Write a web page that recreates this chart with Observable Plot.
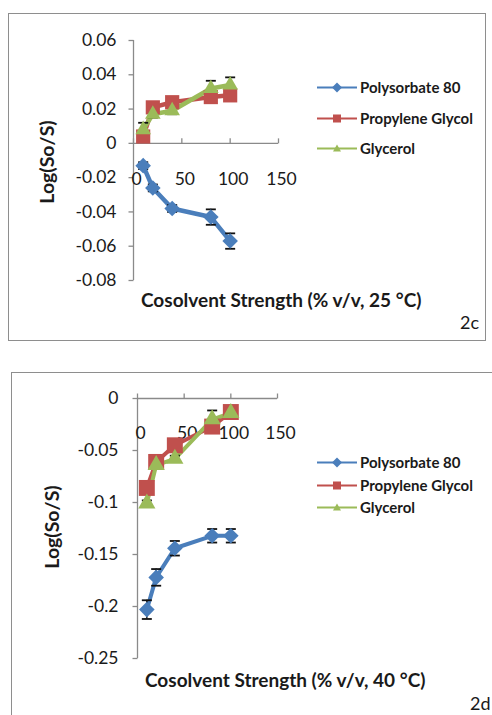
<!DOCTYPE html>
<html><head><meta charset="utf-8">
<script src="https://cdn.jsdelivr.net/npm/d3@7"></script>
<script src="https://cdn.jsdelivr.net/npm/@observablehq/plot@0.6"></script>
<style>
body{margin:0;background:#fff;}
#root{position:relative;width:492px;height:715px;overflow:hidden;background:#fff;font-family:Lato,"Open Sans",sans-serif;color:#1a1a1a;}
.abs{position:absolute;white-space:nowrap;line-height:1;}
.box{position:absolute;border:1.5px solid #8e8e8e;box-sizing:border-box;}
.ytitle{font-weight:bold;font-size:19.5px;transform:translate(-50%,-50%) rotate(-90deg);}
.xtitle{font-weight:bold;font-size:19px;transform:translateY(-50%);}
.tag{font-size:18px;transform:translateY(-50%);}
.leg{display:flex;align-items:center;font-weight:bold;font-size:15px;transform:translateY(-50%);}
.plotwrap{position:absolute;left:0;}
</style></head>
<body><div id="root"></div>
<script>
// ---------- data ----------
const cosolvent = [10, 20, 40, 80, 100];
const seriesNames = ["Polysorbate 80", "Propylene Glycol", "Glycerol"];
const seriesColors = ["#4A7EBB", "#C0504D", "#9BBB59"];
const seriesSymbols = ["diamond2", "square", "triangle"];

// 25 °C panel (2c)
const ps80At25 = [-0.013, -0.026, -0.038, -0.043, -0.057];
const pgAt25 = [0.004, 0.021, 0.024, 0.027, 0.028];
const glyAt25 = [0.008, 0.017, 0.019, 0.032, 0.034];
const ps80ErrAt25 = [0.002, 0.002, 0.002, 0.0045, 0.0045];
const pgErrAt25 = [0.002, 0.002, 0.002, 0.002, 0.002];
const glyErrAt25 = [0.004, 0.002, 0.002, 0.0045, 0.0045];
const yTicks25 = [0.06, 0.04, 0.02, 0, -0.02, -0.04, -0.06, -0.08];
const yLabels25 = ["0.06", "0.04", "0.02", "0", "-0.02", "-0.04", "-0.06", "-0.08"];

// 40 °C panel (2d)
const ps80At40 = [-0.203, -0.172, -0.144, -0.132, -0.132];
const pgAt40 = [-0.086, -0.061, -0.045, -0.027, -0.013];
const glyAt40 = [-0.101, -0.064, -0.058, -0.020, -0.014];
const ps80ErrAt40 = [0.009, 0.008, 0.007, 0.0065, 0.0065];
const pgErrAt40 = [0.003, 0.003, 0.003, 0.004, 0.003];
const glyErrAt40 = [0.003, 0.003, 0.003, 0.0085, 0.003];
const yTicks40 = [0, -0.05, -0.1, -0.15, -0.2, -0.25];
const yLabels40 = ["0", "-0.05", "-0.1", "-0.15", "-0.2", "-0.25"];

const xTicks = [0, 50, 100, 150];
const xLabels = ["0", "50", "100", "150"];

// ---------- helpers ----------
const axisColor = "#8a8a8a";
const tickLeft = {draw(c) { c.moveTo(-5, 0); c.lineTo(0, 0); }};
const tickUp = {draw(c) { c.moveTo(0, 0); c.lineTo(0, -5); }};
const cap = {draw(c) { c.moveTo(-5, 0); c.lineTo(5, 0); }};

function rowsFor(values, errs) {
  const rows = [];
  values.forEach((vals, s) => cosolvent.forEach((x, i) => rows.push({x, y: vals[i], err: errs[s][i], s})));
  return rows;
}

function panel(cfg) {
  const rows = rowsFor(cfg.values, cfg.errs);
  const marks = [
    Plot.ruleY([0], {stroke: axisColor, strokeWidth: 1.3}),
    Plot.ruleX([0], {stroke: axisColor, strokeWidth: 1.3}),
    Plot.dot(cfg.yTicks, {x: () => 0, y: d => d, symbol: tickLeft, fill: "none", stroke: axisColor, strokeWidth: 1.3}),
    Plot.text(cfg.yTicks, {x: () => 0, y: d => d, text: (d, i) => cfg.yLabels[i], textAnchor: "end", dx: -cfg.yPad, fontSize: 17.5, fill: "#1a1a1a"}),
    Plot.dot(xTicks, {x: d => d, y: () => 0, symbol: tickUp, fill: "none", stroke: axisColor, strokeWidth: 1.3}),
    Plot.text(xTicks, {x: d => d, y: () => 0, text: (d, i) => xLabels[i], dy: cfg.xLabelDy, dx: 3, fontSize: 17.5, fill: "#1a1a1a"})
  ];
  seriesNames.forEach((name, s) => {
    const data = rows.filter(d => d.s === s);
    marks.push(Plot.line(data, {x: "x", y: "y", stroke: seriesColors[s], strokeWidth: cfg.lineWidth}));
  });
  // error bars sit beneath the markers
  marks.push(Plot.ruleX(rows, {x: "x", y1: d => d.y - d.err, y2: d => d.y + d.err, stroke: "#111", strokeWidth: 1.4}));
  marks.push(Plot.dot(rows, {x: "x", y: d => d.y + d.err, symbol: cap, fill: "none", stroke: "#111", strokeWidth: 1.8}));
  marks.push(Plot.dot(rows, {x: "x", y: d => d.y - d.err, symbol: cap, fill: "none", stroke: "#111", strokeWidth: 1.8}));
  seriesNames.forEach((name, s) => {
    const data = rows.filter(d => d.s === s);
    marks.push(Plot.dot(data, {x: "x", y: "y", symbol: seriesSymbols[s], r: cfg.r[s], fill: seriesColors[s], stroke: "none"}));
  });
  return Plot.plot({
    width: 492, height: 355,
    marginLeft: cfg.ml, marginRight: cfg.mr, marginTop: cfg.mt, marginBottom: cfg.mb,
    x: {domain: [0, 150], axis: null},
    y: {domain: cfg.yDomain, axis: null},
    style: {background: "transparent", overflow: "visible", fontFamily: "Lato, 'Open Sans', sans-serif"},
    marks
  });
}

function swatch(s) {
  const col = seriesColors[s];
  let m;
  if (s === 0) m = `<polygon points="20,1 25,6 20,11 15,6" fill="${col}"/>`;
  else if (s === 1) m = `<rect x="16" y="2" width="8" height="8" fill="${col}"/>`;
  else m = `<polygon points="20,2 24,9 16,9" fill="${col}"/>`;
  return `<svg width="40" height="12" style="margin-right:3px"><line x1="0" y1="6" x2="40" y2="6" stroke="${col}" stroke-width="2"/>${m}</svg>`;
}

const root = document.getElementById("root");
function add(html) { root.insertAdjacentHTML("beforeend", html); }

// frames
add(`<div class="box" style="left:8px;top:13px;width:478px;height:328px"></div>`);
add(`<div class="box" style="left:11px;top:372px;width:500px;height:400px"></div>`);

// panel 2c
const p1 = panel({
  values: [ps80At25, pgAt25, glyAt25], errs: [ps80ErrAt25, pgErrAt25, glyErrAt25],
  yTicks: yTicks25, yLabels: yLabels25, yDomain: [-0.08, 0.06],
  ml: 133, mr: 214, mt: 40, mb: 75, yPad: 17, xLabelDy: 36, lineWidth: 4.5, r: [7, 8, 5.8]
});
const w1 = document.createElement("div"); w1.className = "plotwrap"; w1.style.top = "0px"; w1.appendChild(p1); root.appendChild(w1);

// panel 2d
const p2 = panel({
  values: [ps80At40, pgAt40, glyAt40], errs: [ps80ErrAt40, pgErrAt40, glyErrAt40],
  yTicks: yTicks40, yLabels: yLabels40, yDomain: [-0.25, 0],
  ml: 137, mr: 215, mt: 38, mb: 57, yPad: 19, xLabelDy: 35, lineWidth: 4, r: [7, 9, 6.4]
});
const w2 = document.createElement("div"); w2.className = "plotwrap"; w2.style.top = "360px"; w2.appendChild(p2); root.appendChild(w2);

// titles
add(`<div class="abs ytitle" style="left:47px;top:162px">Log(So/S)</div>`);
add(`<div class="abs xtitle" style="left:141px;top:299px">Cosolvent Strength (% v/v, 25 °C)</div>`);
add(`<div class="abs tag" style="left:460px;top:322px">2c</div>`);
add(`<div class="abs ytitle" style="left:52px;top:527px">Log(So/S)</div>`);
add(`<div class="abs xtitle" style="left:145px;top:679px">Cosolvent Strength (% v/v, 40 °C)</div>`);
add(`<div class="abs tag" style="left:470px;top:703px">2d</div>`);

// legends
const leg1Y = [87, 118, 148];
const leg2Y = [462, 485, 507];
seriesNames.forEach((name, s) => {
  add(`<div class="abs leg" style="left:317px;top:${leg1Y[s]}px">${swatch(s)}${name}</div>`);
  add(`<div class="abs leg" style="left:317px;top:${leg2Y[s]}px">${swatch(s)}${name}</div>`);
});
</script>
</body></html>
